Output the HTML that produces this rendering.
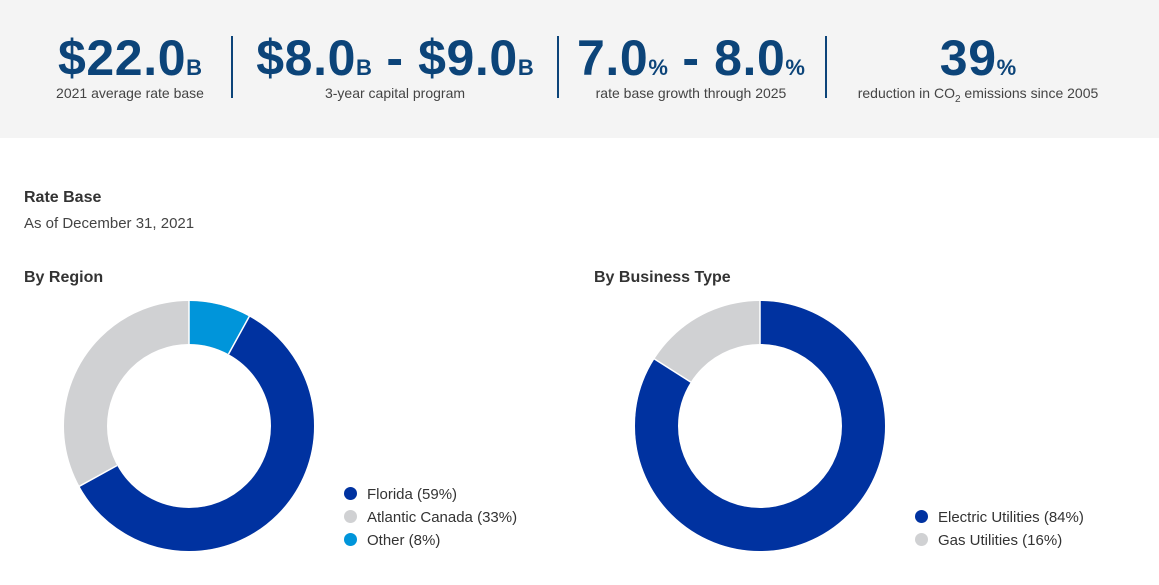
<!DOCTYPE html>
<html><head><style>
body{margin:0;width:1159px;height:585px;background:#fff;font-family:"Liberation Sans",sans-serif;position:relative;overflow:hidden}
.band{position:absolute;left:0;top:0;width:1159px;height:138px;background:#f4f4f4}
.stat{position:absolute;top:30px;text-align:center;transform:translateX(-50%);white-space:nowrap}
.big{font-size:50px;font-weight:bold;color:#0c4479;line-height:56px;letter-spacing:0.6px}
.big small{font-size:22px;font-weight:bold;letter-spacing:0}
.sub{font-size:14px;color:#444;margin-top:-11px}
.div{position:absolute;top:36px;width:2px;height:62px;background:#0c4479}
.t{position:absolute;color:#333;white-space:nowrap}
.leg{position:absolute;font-size:15px;color:#333;white-space:nowrap}
.dot{display:inline-block;width:13px;height:13px;border-radius:50%;margin-right:10px;vertical-align:-1px}
</style></head><body>
<div class="band"></div>
<div class="stat" style="left:130px"><div class="big">$22.0<small>B</small></div><div class="sub">2021 average rate base</div></div>
<div class="div" style="left:231px"></div>
<div class="stat" style="left:395px"><div class="big">$8.0<small>B</small> - $9.0<small>B</small></div><div class="sub">3-year capital program</div></div>
<div class="div" style="left:557px"></div>
<div class="stat" style="left:691px"><div class="big">7.0<small>%</small> - 8.0<small>%</small></div><div class="sub">rate base growth through 2025</div></div>
<div class="div" style="left:825px"></div>
<div class="stat" style="left:978px"><div class="big">39<small>%</small></div><div class="sub">reduction in CO<sub style="font-size:10px">2</sub> emissions since 2005</div></div>

<div class="t" style="left:24px;top:189px;font-size:16px;font-weight:bold">Rate Base</div>
<div class="t" style="left:24px;top:215px;font-size:15px;color:#444">As of December 31, 2021</div>
<div class="t" style="left:24px;top:269px;font-size:16px;font-weight:bold">By Region</div>
<div class="t" style="left:594px;top:269px;font-size:16px;font-weight:bold">By Business Type</div>

<svg width="1159" height="585" style="position:absolute;left:0;top:0">
<g transform="rotate(-90 189 426)" fill="none" stroke-width="43">
<circle cx="189" cy="426" r="103.5" stroke="#d0d1d3"/>
<circle cx="189" cy="426" r="103.5" stroke="#0032a0" stroke-dasharray="0 52.02 383.68 1000"/>
<circle cx="189" cy="426" r="103.5" stroke="#0095da" stroke-dasharray="52.02 1000"/>
</g>
<g stroke="#fff" stroke-width="1.5">
<line x1="189" y1="345" x2="189" y2="300"/>
<line x1="228.5" y1="354.1" x2="249.7" y2="315.6"/>
<line x1="117.1" y1="465.5" x2="78.6" y2="486.7"/>
</g>
<g transform="rotate(-90 760 426)" fill="none" stroke-width="43">
<circle cx="760" cy="426" r="103.5" stroke="#d0d1d3"/>
<circle cx="760" cy="426" r="103.5" stroke="#0032a0" stroke-dasharray="546.26 1000"/>
</g>
<g stroke="#fff" stroke-width="1.5">
<line x1="760" y1="345" x2="760" y2="300"/>
<line x1="690.8" y1="382.1" x2="653.7" y2="358.5"/>
</g>
</svg>

<div class="leg" style="left:344px;top:486px"><span class="dot" style="background:#0032a0"></span>Florida (59%)</div>
<div class="leg" style="left:344px;top:509px"><span class="dot" style="background:#d0d1d3"></span>Atlantic Canada (33%)</div>
<div class="leg" style="left:344px;top:532px"><span class="dot" style="background:#0095da"></span>Other (8%)</div>
<div class="leg" style="left:915px;top:509px"><span class="dot" style="background:#0032a0"></span>Electric Utilities (84%)</div>
<div class="leg" style="left:915px;top:532px"><span class="dot" style="background:#d0d1d3"></span>Gas Utilities (16%)</div>
</body></html>
